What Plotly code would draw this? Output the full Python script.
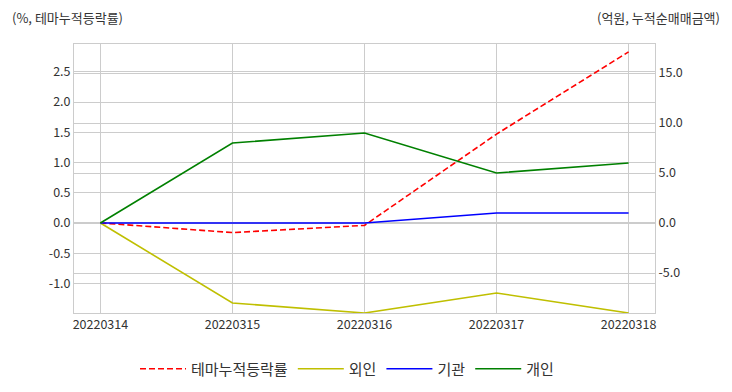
import plotly.graph_objects as go

dates = ["20220314", "20220315", "20220316", "20220317", "20220318"]
theme_rate = [0.0, -0.16, -0.04, 1.47, 2.83]
foreign = [0.0, -8.0, -9.0, -7.0, -9.0]
institution = [0.0, 0.0, 0.0, 1.0, 1.0]
individual = [0.0, 8.0, 9.0, 5.0, 6.0]

left_ticks = [-1.0, -0.5, 0.0, 0.5, 1.0, 1.5, 2.0, 2.5]
right_ticks = [-5.0, 0.0, 5.0, 10.0, 15.0]

FONT = "Noto Sans CJK KR"
GRID = "#cccccc"
TXT = "#333333"

fig = go.Figure()
fig.add_trace(go.Scatter(x=dates, y=theme_rate, name="테마누적등락률", mode="lines",
                         line=dict(color="#ff0000", width=1.6, dash="6px,3px"), yaxis="y"))
fig.add_trace(go.Scatter(x=dates, y=foreign, name="외인", mode="lines",
                         line=dict(color="#bfbf00", width=1.6), yaxis="y2"))
fig.add_trace(go.Scatter(x=dates, y=institution, name="기관", mode="lines",
                         line=dict(color="#0000ff", width=1.6), yaxis="y2"))
fig.add_trace(go.Scatter(x=dates, y=individual, name="개인", mode="lines",
                         line=dict(color="#008000", width=1.6), yaxis="y2"))

# the page body adds an 8px offset; the figure is sized to compensate
fig.update_layout(
    width=724, height=384,
    margin=dict(l=66, r=77, t=36, b=79, autoexpand=False),
    paper_bgcolor="white", plot_bgcolor="white",
    font=dict(family=FONT, size=12, color=TXT),
    showlegend=True,
    legend=dict(orientation="h", x=0.105, xanchor="left", y=-0.208, yanchor="middle",
                font=dict(size=15, color=TXT), itemwidth=46, traceorder="normal"),
    xaxis=dict(type="category", range=[-0.2, 4.2], showgrid=True, gridcolor=GRID, gridwidth=1,
               showline=True, linecolor=GRID, mirror=True, ticks="", zeroline=False,
               tickfont=dict(size=12.5, color=TXT)),
    yaxis=dict(range=[-1.49, 2.96], tickvals=left_ticks, ticktext=[f"{v:.1f}" for v in left_ticks],
               showgrid=True, gridcolor=GRID, gridwidth=1, zeroline=False,
               showline=True, linecolor=GRID, ticks="", tickfont=dict(size=12.5, color=TXT)),
    yaxis2=dict(range=[-9.0, 17.9], tickvals=right_ticks, ticktext=[f"{v:.1f}" for v in right_ticks],
                overlaying="y", side="right", showgrid=True, gridcolor=GRID, gridwidth=1,
                zeroline=False, showline=True, linecolor=GRID, ticks="",
                tickfont=dict(size=12.5, color=TXT)),
    annotations=[
        dict(text="(%, 테마누적등락률)", xref="paper", yref="paper", x=-0.110, y=1.098,
             xanchor="left", yanchor="middle", showarrow=False, font=dict(size=13, color=TXT)),
        dict(text="(억원, 누적순매매금액)", xref="paper", yref="paper", x=1.115, y=1.098,
             xanchor="right", yanchor="middle", showarrow=False, font=dict(size=13, color=TXT)),
    ],
)

fig.write_html("out.html")
